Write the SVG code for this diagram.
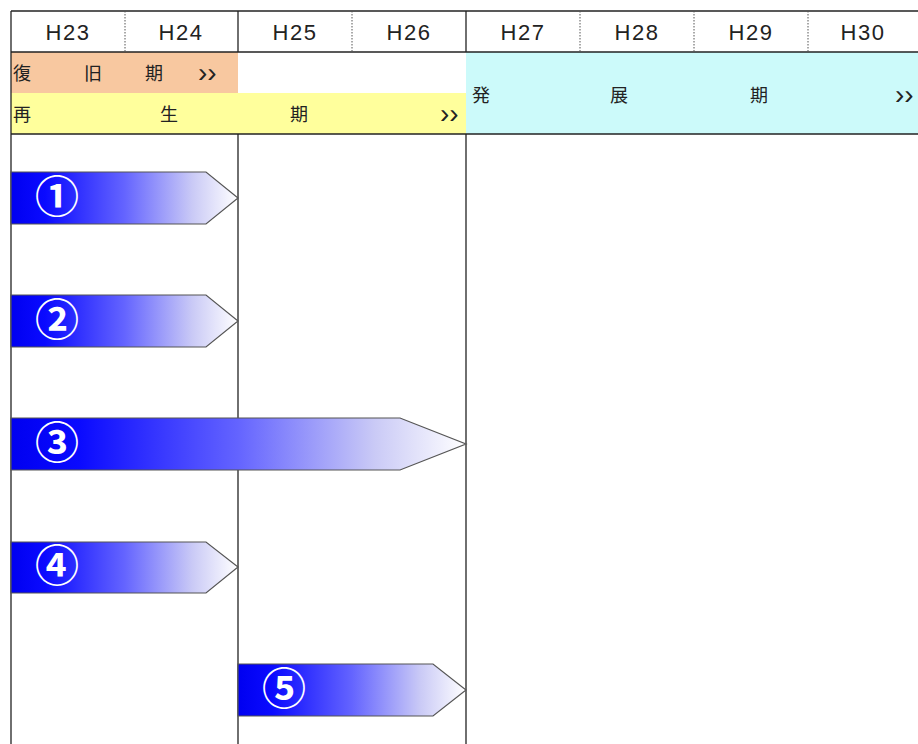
<svg xmlns="http://www.w3.org/2000/svg" width="918" height="744" viewBox="0 0 918 744">
<style>
.hdr{font-family:"Liberation Sans","DejaVu Sans",sans-serif;font-size:22px;fill:#222;text-anchor:middle;letter-spacing:1.5px}
.ph{font-family:"Noto Sans CJK JP","Noto Sans CJK SC",sans-serif;font-size:18px;fill:#222}
.chev{font-family:"Liberation Sans","DejaVu Sans",sans-serif;font-size:28px;fill:#222}
.num{font-family:"Noto Sans CJK JP","DejaVu Sans",sans-serif;font-size:44px;fill:#fff;text-anchor:middle;font-weight:bold}
.solid{stroke:#222;stroke-width:1.3;fill:none}
.dot{stroke:#555;stroke-width:1;stroke-dasharray:1.5 1.5;fill:none}
.bar{stroke:#555;stroke-width:1.2}
</style>
<defs>
<linearGradient id="g" x1="0" y1="0" x2="1" y2="0">
<stop offset="0" stop-color="#0000f0"/>
<stop offset="0.15" stop-color="#0a0aff"/>
<stop offset="0.5" stop-color="#6464ff"/>
<stop offset="0.8" stop-color="#cacaf6"/>
<stop offset="1" stop-color="#ffffff"/>
</linearGradient>
</defs>
<rect x="0" y="0" width="918" height="744" fill="#fff"/>
<g id="phases">
<rect x="11" y="52" width="227" height="41" fill="#f8c8a0"/>
<rect x="11" y="93" width="455" height="41" fill="#ffff9c"/>
<rect x="466" y="52" width="452" height="82" fill="#ccfafa"/>
<text class="ph" x="13" y="80">復</text>
<text class="ph" x="84" y="80">旧</text>
<text class="ph" x="145" y="80">期</text>
<text class="chev" x="198" y="82">››</text>
<text class="ph" x="13" y="121">再</text>
<text class="ph" x="160" y="121">生</text>
<text class="ph" x="290" y="121">期</text>
<text class="chev" x="440" y="123">››</text>
<text class="ph" x="472" y="102">発</text>
<text class="ph" x="610" y="102">展</text>
<text class="ph" x="750" y="102">期</text>
<text class="chev" x="895" y="104">››</text>
</g>
<g id="header">
<text class="hdr" x="68" y="40">H23</text>
<text class="hdr" x="181" y="40">H24</text>
<text class="hdr" x="295" y="40">H25</text>
<text class="hdr" x="409" y="40">H26</text>
<text class="hdr" x="523" y="40">H27</text>
<text class="hdr" x="637" y="40">H28</text>
<text class="hdr" x="751" y="40">H29</text>
<text class="hdr" x="863" y="40">H30</text>
</g>
<g id="grid">
<line class="solid" x1="11" y1="11" x2="918" y2="11"/>
<line class="solid" x1="11" y1="52" x2="918" y2="52"/>
<line class="solid" x1="11" y1="134" x2="918" y2="134"/>
<line class="solid" x1="11" y1="11" x2="11" y2="744"/>
<line class="solid" x1="238" y1="11" x2="238" y2="52"/>
<line class="solid" x1="466" y1="11" x2="466" y2="52"/>
<line class="solid" x1="238" y1="134" x2="238" y2="744"/>
<line class="solid" x1="466" y1="134" x2="466" y2="744"/>
<line class="dot" x1="125" y1="11" x2="125" y2="52"/>
<line class="dot" x1="352" y1="11" x2="352" y2="52"/>
<line class="dot" x1="580" y1="11" x2="580" y2="52"/>
<line class="dot" x1="694" y1="11" x2="694" y2="52"/>
<line class="dot" x1="808" y1="11" x2="808" y2="52"/>
</g>
<g id="arrow1">
<polygon class="bar" points="11,172 206,172 238,198 206,224 11,224" fill="url(#g)"/>
<text class="num" x="57" y="213">①</text>
</g>
<g id="arrow2">
<polygon class="bar" points="11,295 206,295 238,321 206,347 11,347" fill="url(#g)"/>
<text class="num" x="57" y="336">②</text>
</g>
<g id="arrow3">
<polygon class="bar" points="11,418 400,418 466,444 400,470 11,470" fill="url(#g)"/>
<text class="num" x="57" y="459">③</text>
</g>
<g id="arrow4">
<polygon class="bar" points="11,542 206,542 238,567 206,593 11,593" fill="url(#g)"/>
<text class="num" x="57" y="582">④</text>
</g>
<g id="arrow5">
<polygon class="bar" points="238,664 433,664 466,690 433,716 238,716" fill="url(#g)"/>
<text class="num" x="284" y="705">⑤</text>
</g>
</svg>
